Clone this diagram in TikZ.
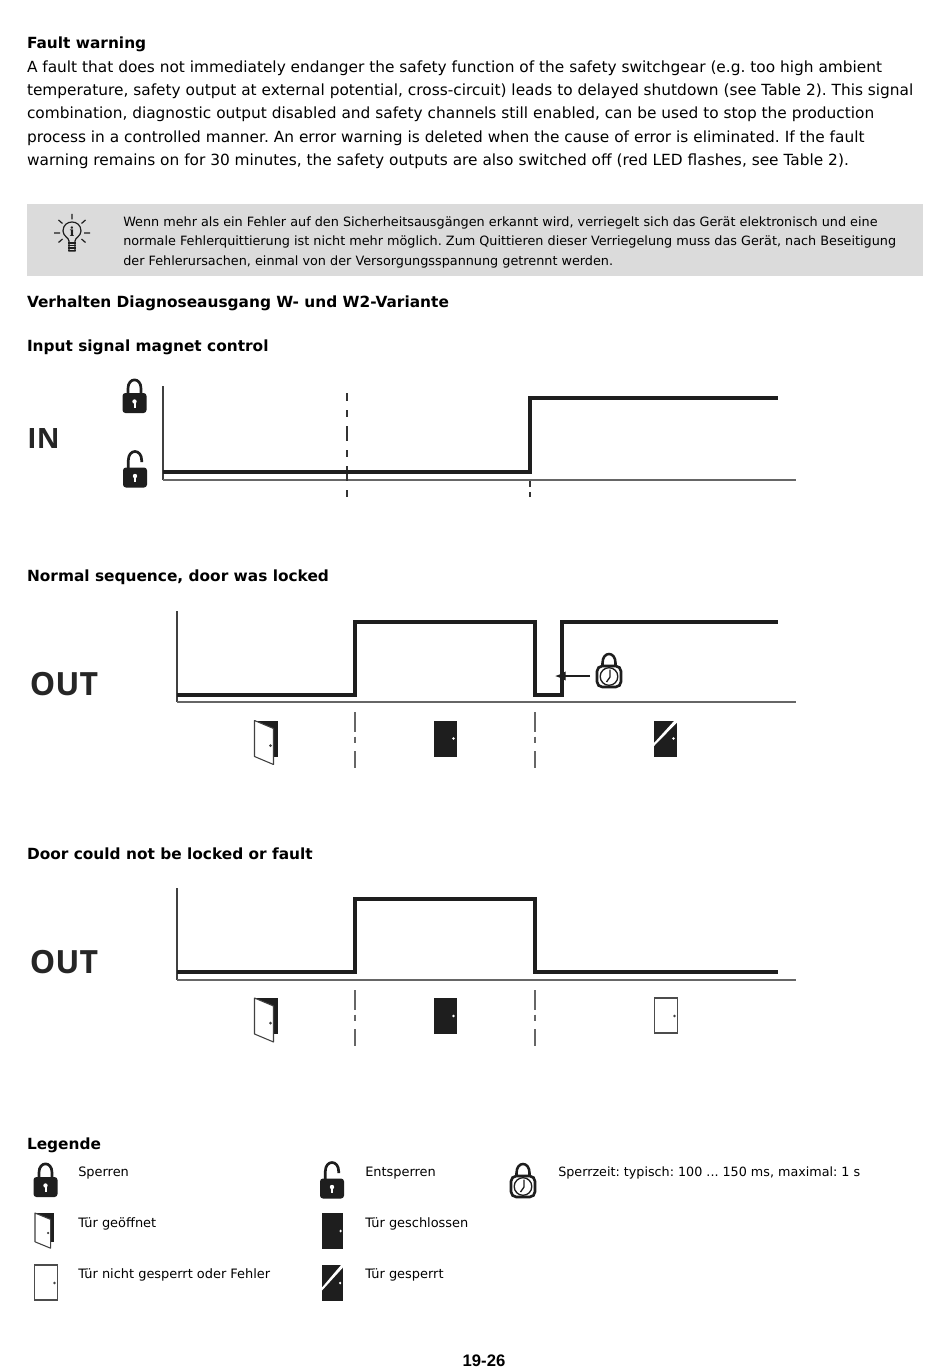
\documentclass[tikz,border=0pt]{standalone}
\usepackage{fontspec}
\setmainfont{DejaVu Sans}
\newfontfamily\labfont{Open Sans}
\newfontfamily\footfont{Liberation Sans}
\newfontfamily\ifont{DejaVu Serif}
\usetikzlibrary{arrows.meta}
\definecolor{ink}{HTML}{1E1E1E}
\tikzset{
  txt/.style={anchor=base west,inner sep=0pt,outer sep=0pt,font=\frenchspacing\fontsize{11.53pt}{17.55pt}\selectfont,align=left},
  head/.style={txt,font=\frenchspacing\fontsize{11.53pt}{17.55pt}\selectfont\bfseries},
  small/.style={anchor=base west,inner sep=0pt,font=\frenchspacing\fontsize{9.6pt}{14.7pt}\selectfont,align=left},
  leg/.style={anchor=base west,inner sep=0pt,font=\frenchspacing\fontsize{9.7pt}{12pt}\selectfont},
  siglab/.style={anchor=center,inner sep=0pt,text=black!85,font=\labfont\bfseries\fontsize{24pt}{24pt}\selectfont},
  axisline/.style={draw=black!75,line width=1.5pt},
  baseline/.style={draw=black!60,line width=1.7pt},
  signal/.style={draw=ink,line width=2.4pt,line join=miter},
  cuta/.style={draw=black!60,line width=1.9pt,dash pattern=on 15pt off 3.5pt on 5pt off 6pt},
  cutb/.style={draw=black!80,line width=1.5pt,dash pattern=on 11.25pt off 6.75pt on 5.25pt off 6.75pt,dash phase=5.25pt},
  cutc/.style={draw=black!80,line width=1.5pt,dash pattern=on 4.5pt off 4pt},
  pics/lockshut/.style={code={
    \path[fill=ink,rounded corners=2.2pt] (-12,0) rectangle (12,20);
    \draw[ink,line width=2pt] (-6.5,1) -- (-6.5,-4.5) .. controls (-6.5,-16) and (6.5,-16) .. (6.5,-4.5) -- (6.5,1);
    \fill[white] (0,8.5) circle (2.2);
    \fill[white] (-1,8.5) rectangle (1,14.5);
  }},
  pics/lockopen/.style={code={
    \path[fill=ink,rounded corners=2.2pt] (-12,0) rectangle (12,20);
    \draw[ink,line width=2pt] (-6.7,1) -- (-6.7,-7) .. controls (-6.7,-19) and (6.7,-19) .. (6.7,-7) -- (6.7,-5.5);
    \fill[white] (0,8.5) circle (2.2);
    \fill[white] (-1,8.5) rectangle (1,14.5);
  }},
  pics/lockclock/.style={code={
    \draw[ink,line width=1.9pt] (-6.5,2) -- (-6.5,-4) .. controls (-6.5,-16) and (6.5,-16) .. (6.5,-4) -- (6.5,2);
    \draw[ink,line width=2pt,fill=white,rounded corners=4pt] (-12,-1) rectangle (12,20);
    \draw[ink,line width=1pt] (0,9.5) circle (8.8);
    \draw[ink,line width=1pt] (1,2.5) -- (1,10) -- (-2.5,15);
  }},
  pics/dooropen/.style={code={
    \fill[ink] (0,0) rectangle (23,36);
    \draw[black!75,fill=white,line width=.8pt,line join=round] (0,0) -- (19,8) -- (19,44) -- (0,36) -- cycle;
    \fill[black!75] (16,25) circle (1.5);
  }},
  pics/doorshut/.style={code={
    \fill[ink] (0,0) rectangle (23,36);
    \fill[white] (20,18) circle (1.4);
  }},
  pics/doorlocked/.style={code={
    \fill[ink] (0,0) rectangle (23,36);
    \fill[white] (20.5,0) -- (23.5,0) -- (23.5,1.5) -- (0,25.5) -- (0,22.5) -- cycle;
    \fill[white] (19.5,18) circle (1.4);
  }},
  pics/doorfree/.style={code={
    \draw[black!70,fill=white,line width=.8pt] (0,0) rectangle (23,35);
    \fill[black!75] (20,18) circle (1.4);
  }},
}
\begin{document}
\begin{tikzpicture}[x=0.75pt,y=-0.75pt]
\useasboundingbox (0,0) rectangle (950,1369);
\fill[white] (0,0) rectangle (950,1369);

% text block
\node[head] (h1) at (27,48.7) {Fault warning};
\node[txt] (p1) at (27,165.8) {A fault that does not immediately endanger the safety function of the safety switchgear (e.g. too high ambient\\
temperature, safety output at external potential, cross-circuit) leads to delayed shutdown (see Table 2). This signal\\
combination, diagnostic output disabled and safety channels still enabled, can be used to stop the production\\
process in a controlled manner. An error warning is deleted when the cause of error is eliminated. If the fault\\
warning remains on for 30 minutes, the safety outputs are also switched off (red LED flashes, see Table 2).};

% note box
\fill[black!14] (27,204) rectangle (923,276);
\node[small] (n1) at (123,265.4) {Wenn mehr als ein Fehler auf den Sicherheitsausgängen erkannt wird, verriegelt sich das Gerät elektronisch und eine\\
normale Fehlerquittierung ist nicht mehr möglich. Zum Quittieren dieser Verriegelung muss das Gerät, nach Beseitigung\\
der Fehlerursachen, einmal von der Versorgungsspannung getrennt werden.};
% bulb
\begin{scope}[shift={(72,233)}]
  \draw[ink,line width=.9pt] (-3,8) .. controls (-3,5) and (-9,3) .. (-9,-2) .. controls (-9,-14) and (9,-14) .. (9,-2) .. controls (9,3) and (3,5) .. (3,8) -- (3,18) -- (-3,18) -- cycle;
  \foreach \yy in {10,12.5,15,17.5} \draw[ink,line width=.9pt] (-4,\yy) -- (4,\yy);
  \node[inner sep=0pt,font=\ifont\bfseries\fontsize{9.5pt}{10pt}\selectfont,text=ink] (infoi) at (0,-1) {i};
  \draw[ink,line width=.9pt] (0,-19) -- (0,-13.5) (-18,0) -- (-12,0) (12,0) -- (18,0) (-13.5,-13) -- (-9.5,-9.5) (13.5,-13) -- (9.5,-9.5) (-13.5,9.5) -- (-9.5,6) (13.5,9.5) -- (9.5,6);
\end{scope}

\node[head] (h2) at (27,307) {Verhalten Diagnoseausgang W- und W2-Variante};
\node[head] (h3) at (27,351) {Input signal magnet control};

% IN chart
\node[siglab,font=\labfont\bfseries\fontsize{21pt}{21pt}\selectfont] (lin) at (43.5,439) {IN};
\pic at (134.5,393) {lockshut};
\pic at (135,467.5) {lockopen};
\draw[axisline] (163,386) -- (163,480);
\draw[baseline] (163,480) -- (796,480);
\draw[cutb] (347,393) -- (347,497);
\draw[cutc] (530,481) -- (530,497);
\draw[signal] (163,472) -- (530,472) -- (530,398) -- (778,398);

\node[head] (h4) at (27,581) {Normal sequence, door was locked};

% OUT 1
\node[siglab] (lo1) at (64,684) {OUT};
\draw[axisline] (177,611) -- (177,702);
\draw[baseline] (177,702) -- (796,702);
\draw[signal] (177,695) -- (355,695) -- (355,622) -- (535,622) -- (535,695) -- (562,695) -- (562,622) -- (778,622);
\draw[cuta] (355,712) -- (355,768);
\draw[cuta] (535,712) -- (535,768);
\pic at (254.5,720.5) {dooropen};
\pic at (433.5,720.5) {doorshut};
\pic at (654,720.5) {doorlocked};
\pic at (609,667) {lockclock};
\coordinate (clk) at (590,676);
\coordinate (stp) at (555,676);
\draw[ink,line width=.9pt,-{Latex[length=8pt,width=7pt]}] (clk) -- (stp);

\node[head] (h5) at (27,859) {Door could not be locked or fault};

% OUT 2
\node[siglab] (lo2) at (64,962) {OUT};
\draw[axisline] (177,888) -- (177,980);
\draw[baseline] (177,980) -- (796,980);
\draw[signal] (177,972) -- (355,972) -- (355,899) -- (535,899) -- (535,972) -- (778,972);
\draw[cuta] (355,990) -- (355,1046);
\draw[cuta] (535,990) -- (535,1046);
\pic at (254.5,998) {dooropen};
\pic at (433.5,998) {doorshut};
\pic at (654.5,998) {doorfree};

% legend
\node[head] (h6) at (27,1149.5) {Legende};
\pic at (45.5,1177) {lockshut};
\node[leg] (l1) at (78,1176) {Sperren};
\pic at (332,1178.5) {lockopen};
\node[leg] (l2) at (365,1176) {Entsperren};
\pic at (523,1177) {lockclock};
\node[leg,font=\frenchspacing\fontsize{9.55pt}{12pt}\selectfont] (l3) at (558,1176) {Sperrzeit: typisch: 100 ... 150 ms, maximal: 1 s};
\pic[xscale=.82,yscale=.8] at (35,1213) {dooropen};
\node[leg] (l4) at (78,1227) {Tür geöffnet};
\pic[xscale=.93] at (322,1213) {doorshut};
\node[leg] (l5) at (365,1227) {Tür geschlossen};
\pic at (34.5,1265) {doorfree};
\node[leg] (l6) at (78,1278) {Tür nicht gesperrt oder Fehler};
\pic[xscale=.93] at (322,1265) {doorlocked};
\node[leg] (l7) at (365,1278) {Tür gesperrt};

\node[anchor=base,inner sep=0pt,font=\footfont\bfseries\fontsize{12.5pt}{14pt}\selectfont] (pg) at (484,1366.5) {19-26};
\end{tikzpicture}
\end{document}
